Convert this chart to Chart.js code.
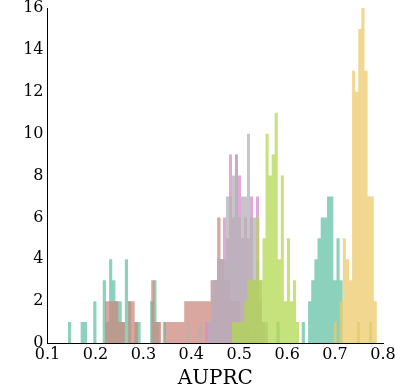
<!DOCTYPE html>
<html><head><meta charset="utf-8">
<script src="https://cdn.jsdelivr.net/npm/chart.js@4.4.0/dist/chart.umd.min.js"></script>
<style>html,body{margin:0;padding:0;background:#fff;}#wrap{width:395px;height:388px;}</style>
</head><body><div id="wrap"><canvas id="c" width="395" height="388"></canvas></div>
<script>
// Histogram series: first bin left edge, bin width, counts per bin
const tealStart = 0.1428, tealWidth = 0.00659;
const tealCounts = [1,0,0,0,1,1,0,0,2,0,0,3,1,4,3,2,2,1,4,2,0,1,1,0,0,0,2,3,1,0,1,
  0,0,0,0,0,0,0,0,0,0,0,0,0,0,0,0,0,0,0,0,0,0,0,0,0,0,0,0,0,0,0,0,0,0,0,1,0,0,0,0,0,0,
  0,1,0,2,3,4,5,6,6,7,7,3,5,3];

const salmonStart = 0.2200, salmonWidth = 0.006885;
const salmonCounts = [2,2,2,2,1,1,0,2,2,1,0,0,0,0,3,1,1,0,1,1,1,1,1,1,2,2,2,2,2,2,2,2,3,3,6,4,3,3,2,2,2,1,1,1,0,1];

const pinkStart = 0.39105, pinkWidth = 0.006259;
const pinkCounts = [0,0,0,0,0,0,1,1,2,3,4,4,6,5,9,6,9,8,5,6,5,7,3,7,2,1];

const grayStart = 0.39105, grayWidth = 0.006259;
const grayCounts = [1,0,0,0,1,0,0,1,3,3,4,4,4,7,7,8,9,6,7,7,10,6,6,4,3,1,1];

const limeStart = 0.48494, limeWidth = 0.006364;
const limeCounts = [1,1,1,1,2,3,3,3,6,3,5,10,8,9,11,4,8,2,5,2,3,1,0,0,0,0,0,0,0,0,0,0,0,0,0,0,0,0,0,0,0,1,0,0,0,1];

const goldStart = 0.69671, goldWidth = 0.006468;
const goldCounts = [1,0,2,5,4,3,13,12,15,16,13,7,7,2];

const xTickMin = 0.1, xTickMax = 0.8, xTickStep = 0.1;
const yTickMin = 0, yTickMax = 16, yTickStep = 2;
const xLabel = 'AUPRC';

function histPoints(start, width, counts) {
  const pts = counts.map((c, i) => ({x: start + i * width, y: c}));
  pts.push({x: start + counts.length * width, y: 0});
  return pts;
}
function ds(start, width, counts, color, order) {
  return {data: histPoints(start, width, counts), stepped: 'before', fill: 'origin',
    backgroundColor: color, borderWidth: 0, borderColor: 'rgba(0,0,0,0)', pointRadius: 0, order: order};
}

new Chart(document.getElementById('c'), {
  type: 'line',
  data: {datasets: [
    ds(tealStart, tealWidth, tealCounts, 'rgba(102,194,165,0.75)', 6),
    ds(salmonStart, salmonWidth, salmonCounts, 'rgba(204,138,128,0.75)', 5),
    ds(pinkStart, pinkWidth, pinkCounts, 'rgba(215,140,205,0.75)', 4),
    ds(grayStart, grayWidth, grayCounts, 'rgba(179,179,179,0.75)', 3),
    ds(limeStart, limeWidth, limeCounts, 'rgba(178,216,80,0.75)', 2),
    ds(goldStart, goldWidth, goldCounts, 'rgba(238,202,108,0.75)', 1)
  ]},
  options: {
    responsive: false, animation: false,
    layout: {padding: {left: 0, right: 12, top: 8, bottom: 0}},
    plugins: {legend: {display: false}, tooltip: {enabled: false}},
    elements: {line: {tension: 0}},
    scales: {
      x: {type: 'linear', min: xTickMin, max: xTickMax,
        grid: {display: false, drawTicks: false},
        border: {display: true, color: '#000', width: 1},
        ticks: {stepSize: xTickStep, padding: 2, color: '#000', maxRotation: 0, autoSkip: false,
          font: {family: 'DejaVu Serif', size: 16}, callback: v => Number(v).toFixed(1)},
        title: {display: true, text: xLabel, color: '#000', font: {family: 'DejaVu Serif', size: 20}, padding: {top: 0, bottom: -3}},
        afterFit(s) { s.height = 45; s.paddingLeft = 0; s.paddingRight = 0; }
      },
      y: {min: yTickMin, max: yTickMax,
        grid: {display: false, drawTicks: false},
        border: {display: true, color: '#000', width: 1},
        ticks: {stepSize: yTickStep, padding: 4, color: '#000', font: {family: 'DejaVu Serif', size: 16}},
        afterFit(s) { s.width = 47.5; s.paddingTop = 0; s.paddingBottom = 0; }
      }
    }
  }
});
</script>
</body></html>
